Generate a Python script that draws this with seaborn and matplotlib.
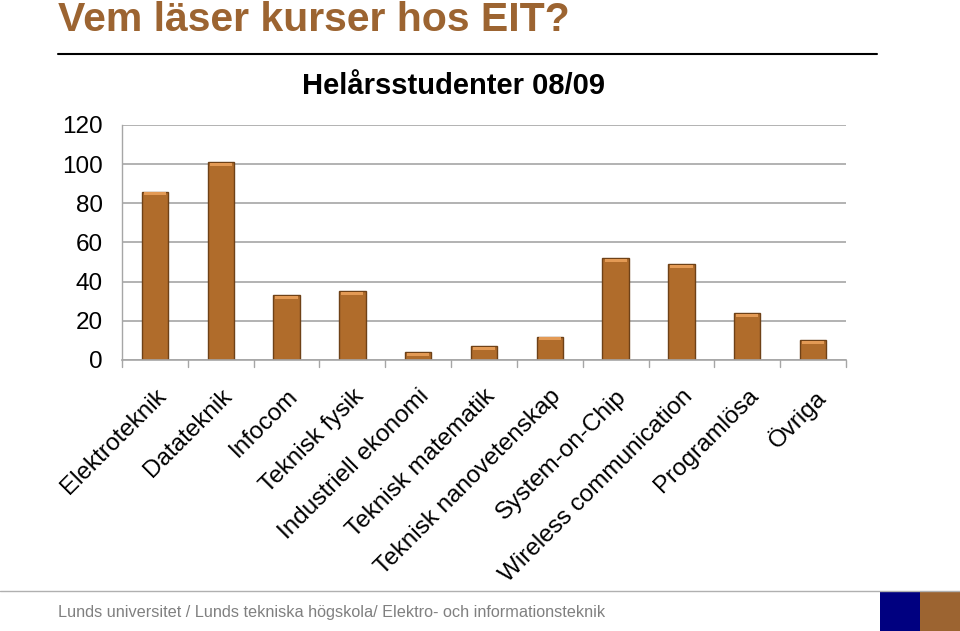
import matplotlib
matplotlib.use("Agg")
import matplotlib.pyplot as plt
import seaborn as sns
import pandas as pd
from matplotlib.patches import Rectangle
from matplotlib.lines import Line2D

categories = ["Elektroteknik", "Datateknik", "Infocom", "Teknisk fysik",
              "Industriell ekonomi", "Teknisk matematik", "Teknisk nanovetenskap",
              "System-on-Chip", "Wireless communication", "Programlösa", "Övriga"]
values = [86, 101, 33, 35, 4, 7, 12, 52, 49, 24, 10]
yticks = [0, 20, 40, 60, 80, 100, 120]

sns.set_theme(style="white")
plt.rcParams['font.family'] = ['Liberation Sans', 'DejaVu Sans']
plt.rcParams['text.color'] = 'black'

df = pd.DataFrame({"cat": categories, "val": values})

fig = plt.figure(figsize=(9.6, 6.31), dpi=100)
ax = fig.add_axes([122/960, 1-360/631, (846-122)/960, (360-125)/631])

sns.barplot(data=df, x="cat", y="val", ax=ax, color="#b06c2b", width=0.4,
            edgecolor="#6e4117", linewidth=1.0, saturation=1)

ax.set_ylim(0, 120)
ax.set_xlim(-0.5, len(categories)-0.5)
ax.set_yticks(yticks)
ax.set_yticklabels([str(t) for t in yticks], fontsize=17.5, color="black")
ax.yaxis.grid(True, color="#a6a6a6", linewidth=1.2)
ax.set_axisbelow(True)
ax.set_xlabel("")
ax.set_ylabel("")
for s in ["top", "right"]:
    ax.spines[s].set_visible(False)
ax.spines["left"].set_color("#a6a6a6")
ax.spines["bottom"].set_color("#a6a6a6")
ax.spines["left"].set_linewidth(1.0)
ax.spines["bottom"].set_linewidth(1.2)
ax.tick_params(axis="y", length=0, pad=14)

# category labels rotated
ax.set_xticks(range(len(categories)))
ax.set_xticklabels(categories, rotation=45, ha="right", rotation_mode="anchor",
                   fontsize=17.5, color="black")
ax.tick_params(axis="x", length=0, pad=18)
# boundary tick marks
for b in [i - 0.5 for i in range(len(categories)+1)]:
    ax.add_line(Line2D([b, b], [0, -3.5], color="#a6a6a6", linewidth=1.0,
                       clip_on=False))

# highlight on bar tops
for p in ax.patches[:len(values)]:
    x0 = p.get_x(); w = p.get_width(); h = p.get_height()
    ax.add_patch(Rectangle((x0 + w*0.08, h - 1.8), w*0.84, 1.5,
                           facecolor="#e39a55", edgecolor="none", zorder=3))

fig.text(453/960, 1-86/631, "Helårsstudenter 08/09", fontsize=21, fontweight="bold",
         color="black", va="center", ha="center")

fig.text(58/960, 1-20/631, "Vem läser kurser hos EIT?", fontsize=29.5, fontweight="bold",
         color="#9c6431", va="center", ha="left")
fig.add_artist(Line2D([58/960, 877/960], [1-54/631, 1-54/631], color="black",
                      linewidth=1.5, transform=fig.transFigure))
fig.add_artist(Line2D([0, 1], [1-591/631, 1-591/631], color="#b0b0b0",
                      linewidth=1.0, transform=fig.transFigure))
fig.text(58/960, 1-612/631, "Lunds universitet / Lunds tekniska högskola/ Elektro- och informationsteknik",
         fontsize=11.7, color="#808080", va="center", ha="left")
fig.add_artist(Rectangle((880/960, 0), 40/960, 40/631, facecolor="#000080",
                         edgecolor="none", transform=fig.transFigure))
fig.add_artist(Rectangle((920/960, 0), 40/960, 40/631, facecolor="#9c6431",
                         edgecolor="none", transform=fig.transFigure))

fig.savefig("out.png", dpi=100)
